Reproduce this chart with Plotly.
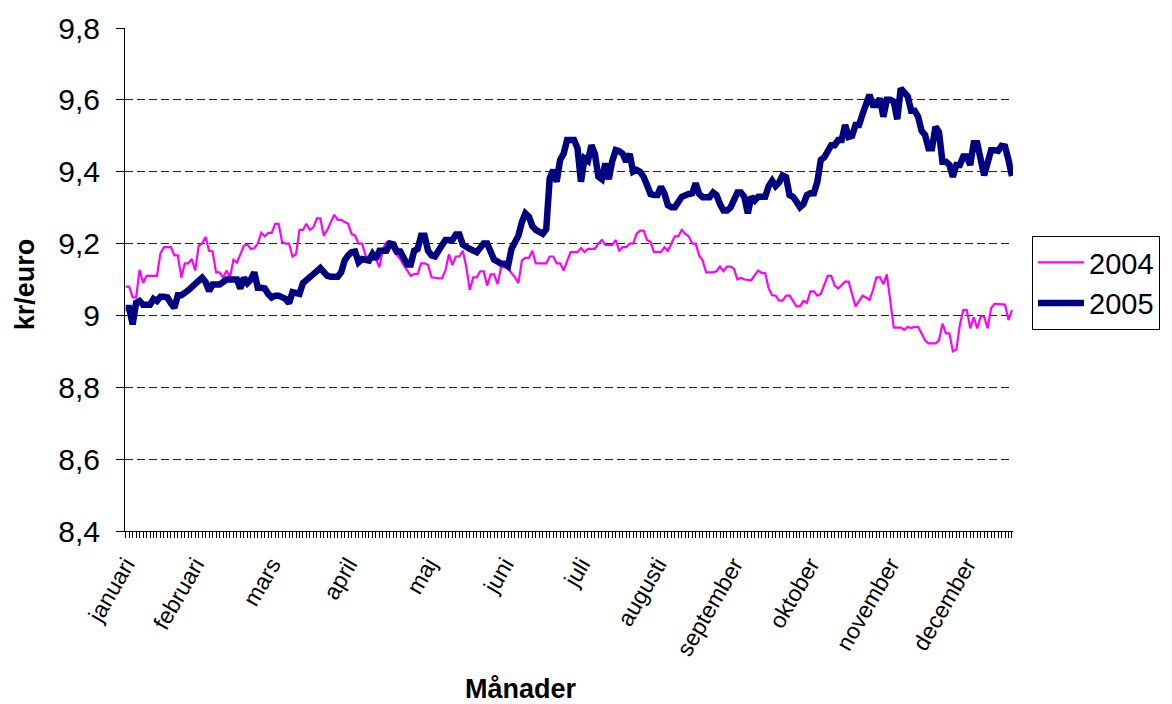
import plotly.graph_objects as go

# ---- data -------------------------------------------------------------
months = ["januari", "februari", "mars", "april", "maj", "juni", "juli",
          "augusti", "september", "oktober", "november", "december"]
month_day = [0, 20, 42, 64, 87, 109, 131, 153, 175, 197, 220, 242]

y_tickvals = [8.4, 8.6, 8.8, 9.0, 9.2, 9.4, 9.6, 9.8]
y_ticktext = ["8,4", "8,6", "8,8", "9", "9,2", "9,4", "9,6", "9,8"]

days_2004 = [0, 1, 2, 3, 4, 5, 6, 9, 10, 11, 13, 14, 15, 16, 17, 18, 19, 20, 21, 22,
             23, 24, 25, 26, 27, 28, 29, 30, 31, 32, 34, 35, 36, 37, 38, 39, 40, 41, 42, 43,
             44, 45, 46, 47, 48, 49, 50, 51, 52, 53, 54, 55, 56, 57, 58, 60, 61, 62, 63, 64,
             65, 66, 67, 68, 69, 70, 71, 72, 73, 74, 75, 76, 77, 79, 80, 82, 83, 84, 85, 86,
             87, 88, 90, 91, 92, 93, 94, 95, 96, 97, 98, 99, 100, 101, 102, 103, 104, 105, 106, 107,
             108, 109, 110, 112, 113, 114, 115, 116, 117, 118, 119, 121, 122, 123, 124, 125, 126, 127, 128, 130,
             131, 132, 133, 135, 136, 137, 138, 140, 141, 142, 143, 144, 145, 146, 147, 148, 149, 150, 151, 152,
             154, 155, 156, 157, 158, 159, 160, 161, 162, 163, 164, 165, 166, 167, 169, 170, 171, 172, 173, 174,
             175, 176, 177, 178, 179, 180, 181, 182, 183, 184, 185, 186, 187, 188, 189, 190, 191, 192, 193, 194,
             195, 196, 197, 198, 199, 200, 201, 202, 203, 204, 205, 207, 208, 209, 210, 211, 212, 213, 214, 215,
             216, 217, 218, 219, 220, 221, 223, 224, 225, 226, 227, 228, 229, 230, 231, 233, 234, 235, 236, 237,
             238, 239, 240, 241, 242, 243, 244, 245, 246, 247, 248, 249, 250, 252, 253, 254, 255]
eur_2004 = [9.08, 9.08, 9.05, 9.05, 9.127, 9.09, 9.11, 9.11, 9.173, 9.19, 9.19, 9.167, 9.167, 9.105, 9.145, 9.145, 9.157, 9.125, 9.194, 9.2,
            9.218, 9.18, 9.178, 9.12, 9.12, 9.105, 9.125, 9.105, 9.155, 9.147, 9.194, 9.197, 9.185, 9.187, 9.2, 9.23, 9.22, 9.23, 9.23, 9.255,
            9.255, 9.204, 9.2, 9.2, 9.164, 9.17, 9.238, 9.238, 9.255, 9.238, 9.245, 9.27, 9.27, 9.222, 9.238, 9.28, 9.266, 9.266, 9.26, 9.255,
            9.227, 9.222, 9.2, 9.2, 9.167, 9.157, 9.171, 9.157, 9.134, 9.185, 9.204, 9.2, 9.18, 9.157, 9.14, 9.11, 9.115, 9.115, 9.145, 9.145,
            9.14, 9.106, 9.103, 9.103, 9.125, 9.17, 9.14, 9.164, 9.164, 9.18, 9.134, 9.071, 9.106, 9.106, 9.123, 9.123, 9.083, 9.114, 9.114, 9.087,
            9.134, 9.134, 9.13, 9.106, 9.09, 9.153, 9.16, 9.16, 9.18, 9.145, 9.145, 9.145, 9.164, 9.164, 9.145, 9.145, 9.125, 9.153, 9.176, 9.176,
            9.188, 9.176, 9.185, 9.185, 9.2, 9.21, 9.196, 9.196, 9.21, 9.18, 9.19, 9.19, 9.2, 9.2, 9.227, 9.236, 9.236, 9.21, 9.205, 9.176,
            9.176, 9.19, 9.18, 9.2, 9.22, 9.22, 9.238, 9.227, 9.22, 9.2, 9.2, 9.167, 9.153, 9.12, 9.12, 9.123, 9.136, 9.123, 9.136, 9.136,
            9.13, 9.1, 9.105, 9.1, 9.1, 9.098, 9.112, 9.125, 9.118, 9.118, 9.075, 9.056, 9.055, 9.041, 9.041, 9.055, 9.056, 9.04, 9.025, 9.025,
            9.04, 9.035, 9.067, 9.067, 9.055, 9.06, 9.087, 9.11, 9.11, 9.083, 9.075, 9.094, 9.094, 9.062, 9.025, 9.04, 9.055, 9.05, 9.043, 9.07,
            9.106, 9.106, 9.087, 9.114, 9.043, 8.966, 8.966, 8.96, 8.968, 8.965, 8.968, 8.968, 8.95, 8.93, 8.922, 8.922, 8.93, 8.977, 8.95, 8.95,
            8.9, 8.905, 8.973, 9.015, 9.015, 8.964, 8.995, 8.964, 8.997, 8.997, 8.964, 9.02, 9.032, 9.032, 9.03, 8.987, 9.015]

days_2005 = [0, 1, 2, 3, 4, 5, 7, 8, 9, 10, 11, 12, 13, 14, 15, 16, 18, 19, 20, 22,
             23, 24, 25, 26, 27, 28, 29, 30, 32, 33, 34, 35, 36, 37, 38, 39, 40, 41, 42, 43,
             44, 46, 47, 48, 49, 50, 51, 52, 53, 54, 56, 57, 58, 59, 61, 62, 63, 64, 65, 66,
             67, 68, 70, 71, 72, 73, 75, 76, 77, 78, 79, 80, 81, 82, 83, 84, 85, 86, 87, 88,
             89, 90, 91, 92, 93, 94, 95, 96, 97, 98, 99, 101, 102, 103, 104, 105, 106, 107, 108, 109,
             110, 111, 112, 113, 114, 115, 116, 117, 118, 120, 121, 122, 123, 124, 125, 126, 127, 128, 129, 130,
             131, 132, 133, 134, 135, 136, 137, 138, 139, 140, 141, 142, 143, 144, 145, 146, 147, 148, 149, 150,
             151, 152, 153, 154, 155, 156, 157, 158, 159, 160, 162, 163, 164, 165, 166, 167, 168, 169, 170, 171,
             172, 173, 174, 176, 177, 178, 179, 180, 181, 182, 183, 184, 185, 186, 187, 188, 189, 190, 191, 192,
             193, 194, 195, 196, 197, 198, 199, 200, 201, 202, 203, 204, 205, 206, 207, 208, 209, 210, 211, 212,
             213, 214, 215, 216, 217, 218, 219, 220, 221, 222, 223, 224, 225, 226, 227, 228, 229, 230, 231, 232,
             233, 234, 235, 236, 237, 238, 239, 240, 241, 242, 243, 244, 245, 247, 248, 249, 250, 251, 252, 253,
             254, 255]
eur_2005 = [9.021, 9.021, 8.975, 9.035, 9.04, 9.03, 9.03, 9.046, 9.04, 9.052, 9.052, 9.05, 9.034, 9.021, 9.056, 9.056, 9.07, 9.077, 9.088, 9.105,
            9.093, 9.068, 9.086, 9.086, 9.086, 9.093, 9.1, 9.1, 9.1, 9.075, 9.105, 9.09, 9.1, 9.12, 9.077, 9.077, 9.075, 9.06, 9.05, 9.055,
            9.055, 9.046, 9.034, 9.065, 9.06, 9.06, 9.09, 9.1, 9.11, 9.115, 9.132, 9.12, 9.11, 9.108, 9.108, 9.12, 9.153, 9.167, 9.176, 9.178,
            9.148, 9.157, 9.153, 9.171, 9.157, 9.18, 9.18, 9.2, 9.198, 9.178, 9.178, 9.16, 9.142, 9.142, 9.18, 9.185, 9.222, 9.222, 9.18, 9.167,
            9.164, 9.18, 9.197, 9.21, 9.21, 9.21, 9.225, 9.225, 9.197, 9.19, 9.185, 9.176, 9.185, 9.2, 9.2, 9.176, 9.155, 9.15, 9.144, 9.144,
            9.137, 9.185, 9.208, 9.222, 9.26, 9.284, 9.275, 9.249, 9.238, 9.227, 9.24, 9.382, 9.405, 9.372, 9.433, 9.45, 9.488, 9.488, 9.488, 9.465,
            9.372, 9.437, 9.43, 9.474, 9.45, 9.386, 9.379, 9.423, 9.379, 9.43, 9.46, 9.457, 9.45, 9.428, 9.45, 9.4, 9.405, 9.4, 9.386, 9.363,
            9.338, 9.335, 9.335, 9.358, 9.34, 9.307, 9.301, 9.301, 9.317, 9.33, 9.338, 9.34, 9.368, 9.338, 9.329, 9.329, 9.329, 9.342, 9.335, 9.31,
            9.292, 9.292, 9.3, 9.342, 9.342, 9.33, 9.284, 9.33, 9.32, 9.33, 9.33, 9.33, 9.36, 9.375, 9.36, 9.37, 9.39, 9.385, 9.335, 9.33,
            9.317, 9.301, 9.31, 9.335, 9.34, 9.34, 9.372, 9.433, 9.44, 9.46, 9.474, 9.474, 9.488, 9.488, 9.53, 9.497, 9.5, 9.53, 9.53, 9.56,
            9.595, 9.614, 9.586, 9.586, 9.604, 9.553, 9.6, 9.6, 9.595, 9.546, 9.632, 9.618, 9.61, 9.57, 9.57, 9.553, 9.514, 9.502, 9.465, 9.465,
            9.525, 9.51, 9.428, 9.428, 9.419, 9.386, 9.419, 9.419, 9.442, 9.442, 9.419, 9.479, 9.479, 9.39, 9.42, 9.46, 9.46, 9.458, 9.472, 9.47,
            9.433, 9.388]

# ---- figure -----------------------------------------------------------
FONT = "Liberation Sans, Arial, sans-serif"

fig = go.Figure()
fig.add_trace(go.Scatter(x=days_2004, y=eur_2004, mode="lines", name="2004",
                         line=dict(color="#FF00FF", width=2.2)))
fig.add_trace(go.Scatter(x=days_2005, y=eur_2005, mode="lines", name="2005",
                         line=dict(color="#000080", width=6.5)))

fig.update_layout(
    width=1164, height=696,
    margin=dict(l=117, r=159, t=20, b=173, autoexpand=False),
    paper_bgcolor="white", plot_bgcolor="white",
    font=dict(family=FONT, color="black", size=26),
    showlegend=True,
    legend=dict(x=1.0214, y=0.5865, xanchor="left", yanchor="top",
                bordercolor="black", borderwidth=1,
                font=dict(size=29, family=FONT), tracegroupgap=0,
                itemwidth=46, bgcolor="white"),
    xaxis=dict(range=[-0.2, 255.3], tickmode="array", tickvals=month_day,
               ticktext=months, tickangle=-60, ticks="", showgrid=False,
               showline=True, linecolor="black", linewidth=1, zeroline=False,
               automargin=False, ticklabelstandoff=10,
               tickfont=dict(size=23, family=FONT),
               minor=dict(tickmode="linear", tick0=0, dtick=1, ticks="outside",
                          ticklen=6, tickwidth=1, tickcolor="black", showgrid=False)),
    yaxis=dict(range=[8.4, 9.8], tickmode="array", tickvals=y_tickvals,
               ticktext=y_ticktext, ticks="outside", ticklen=8, tickcolor="black",
               ticklabelstandoff=10, automargin=False,
               showline=True, linecolor="black", linewidth=1, zeroline=False,
               showgrid=True, gridcolor="#222222", gridwidth=1, griddash="8px,4px",
               tickfont=dict(size=30, family=FONT)),
    annotations=[
        dict(text="<b>Månader</b>", xref="paper", yref="paper", x=0.446, y=-0.315,
             xanchor="center", yanchor="middle", showarrow=False,
             font=dict(size=27, family=FONT)),
        dict(text="<b>kr/euro</b>", xref="paper", yref="paper", x=-0.113, y=0.49,
             xanchor="center", yanchor="middle", showarrow=False, textangle=-90,
             font=dict(size=27, family=FONT)),
    ],
)

fig.write_html("out.html")
